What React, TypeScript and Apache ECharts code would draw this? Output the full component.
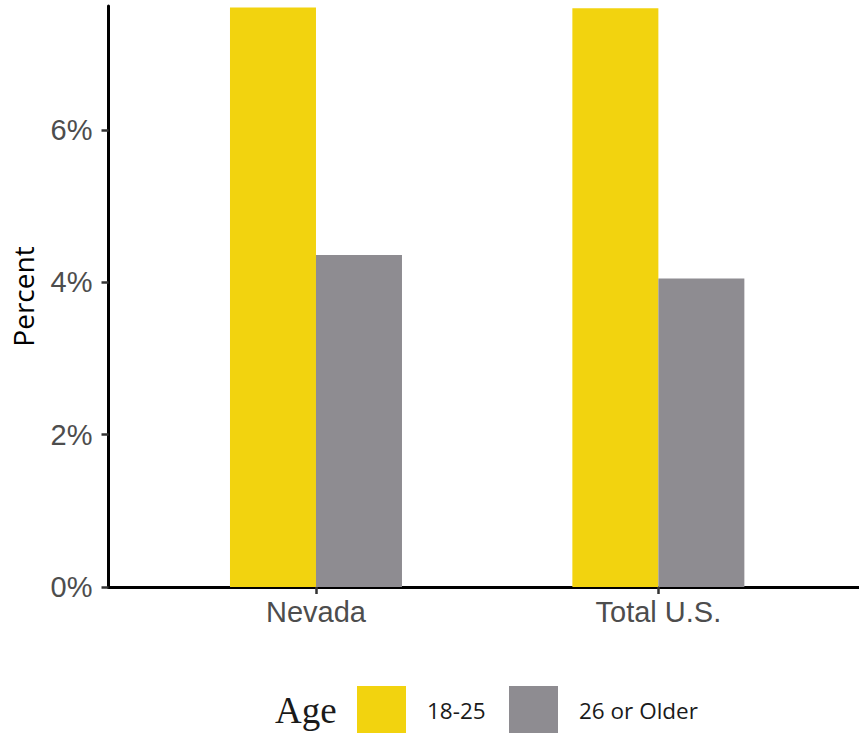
import React, { useEffect, useRef } from "react";
import * as echarts from "echarts";

const categories = ["Nevada", "Total U.S."];
const ageGroups = ["18-25", "26 or Older"];
const young = [7.61, 7.6];
const older = [4.36, 4.05];
const yTicks = [0, 2, 4, 6];
const xPositions = [1, 2];

export default function App() {
  const ref = useRef<HTMLDivElement>(null);
  useEffect(() => {
    if (!ref.current) return;
    const chart = echarts.init(ref.current, null, { renderer: "svg" });
    const labelFont = "'Liberation Sans', Arial, sans-serif";
    const legendBase = {
      top: 686,
      padding: 0,
      itemWidth: 49,
      itemHeight: 48,
      icon: "rect",
      selectedMode: false,
      textStyle: {
        fontFamily: "'Open Sans', sans-serif",
        fontSize: 22.5,
        color: "#1a1a1a",
        padding: [0, 0, 0, 16],
      },
    };
    chart.setOption({
      animation: false,
      backgroundColor: "#ffffff",
      grid: {
        left: 108.5,
        right: 0,
        top: 6,
        bottom: 146,
        containLabel: false,
        outerBoundsMode: "none",
      },
      legend: [
        { ...legendBase, left: 357, data: [ageGroups[0]] },
        { ...legendBase, left: 509, data: [ageGroups[1]] },
      ],
      graphic: [
        {
          type: "text",
          left: 275,
          top: 692,
          style: {
            text: "Age",
            font: "37px 'Liberation Serif', serif",
            fill: "#1a1a1a",
          },
        },
      ],
      xAxis: {
        type: "value",
        min: 0.394,
        max: 2.586,
        splitLine: { show: false },
        axisLine: { show: true, onZero: false, lineStyle: { color: "#000", width: 3 } },
        axisTick: {
          show: true,
          customValues: xPositions,
          length: 7,
          lineStyle: { color: "#333", width: 2.5 },
        },
        axisLabel: {
          customValues: xPositions,
          margin: 10,
          color: "#4d4d4d",
          fontSize: 29,
          fontFamily: labelFont,
          formatter: (v: number) => categories[Math.round(v) - 1] ?? "",
        },
      },
      yAxis: {
        type: "value",
        min: 0,
        max: 7.63,
        splitLine: { show: false },
        name: "Percent",
        nameLocation: "middle",
        nameRotate: 90,
        nameGap: 72,
        nameTextStyle: {
          fontFamily: "'Open Sans', sans-serif",
          fontSize: 28,
          color: "#000",
        },
        axisLine: { show: true, onZero: false, lineStyle: { color: "#000", width: 3 } },
        axisTick: {
          show: true,
          customValues: yTicks,
          length: 7,
          lineStyle: { color: "#333", width: 2.5 },
        },
        axisLabel: {
          customValues: yTicks,
          margin: 16,
          color: "#4d4d4d",
          fontSize: 29,
          fontFamily: labelFont,
          formatter: (v: number) => `${v}%`,
        },
      },
      series: [
        {
          name: ageGroups[0],
          type: "bar",
          barWidth: 86,
          barGap: "0%",
          itemStyle: { color: "#F2D30F" },
          data: categories.map((_, i) => [xPositions[i], young[i]]),
        },
        {
          name: ageGroups[1],
          type: "bar",
          barWidth: 86,
          barGap: "0%",
          itemStyle: { color: "#8E8C91" },
          data: categories.map((_, i) => [xPositions[i], older[i]]),
        },
      ],
    });
    return () => chart.dispose();
  }, []);
  return (
    <div
      ref={ref}
      style={{ position: "fixed", left: 0, top: 0, width: 859, height: 733 }}
    />
  );
}
